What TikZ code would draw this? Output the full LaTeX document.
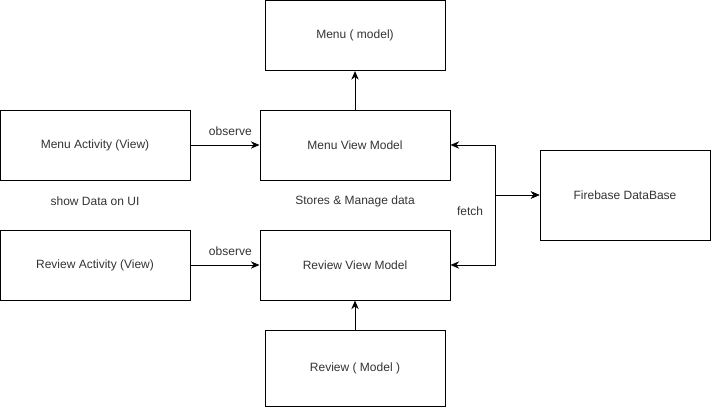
\documentclass[tikz,border=0pt]{standalone}
\usepackage{fontspec}
\setmainfont{Liberation Sans}
\usetikzlibrary{positioning, arrows.meta}

\begin{document}
\begin{tikzpicture}[x=0.75pt, y=-0.75pt,
                  font=\fontsize{9}{11}\selectfont,
                  box/.style={rectangle,draw=black,line width=0.75pt,text=black!80,
                    minimum width=142.5pt,minimum height=52.5pt,inner sep=0pt},
                  note/.style={text=black!80,inner sep=1pt},
                  link/.style={->,>={Stealth[length=6.5pt,width=5.5pt]},line width=0.75pt},
                  both/.style={<->,>={Stealth[length=6.5pt,width=5.5pt]},line width=0.75pt}
                  ]
                  \useasboundingbox (0,0) rectangle (712,408);
                  \node[box, minimum width=135pt] (menumodel) at (355,35.5) {Menu ( model)};
                  \node[box] (menuact) at (95,145) {Menu Activity (View)};
                  \node[box] (menuvm) at (355,145) {Menu View Model};
                  \node[box, minimum width=127.5pt, minimum height=67.5pt] (firebase) at (625,195) {Firebase DataBase};
                  \node[box] (reviewact) at (95,265) {Review Activity (View)};
                  \node[box] (reviewvm) at (355,265) {Review View Model};
                  \node[box, minimum width=135pt, minimum height=57pt] (reviewmodel) at (355,368) {Review ( Model )};
                  \node[note] (showdata) at (95,201) {show Data on UI};
                  \node[note] (stores) at (355,201) {Stores \& Manage data};
                  \node[note] (fetch) at (470,211) {fetch};
                  \coordinate (hub) at (495,195);
                  \draw[link] (menuact) -- node[note, above=5.5pt, xshift=4pt] {observe} (menuvm);
                  \draw[link] (reviewact) -- node[note, above=5.5pt, xshift=4pt] {observe} (reviewvm);
                  \draw[link] (menuvm) -- (menumodel);
                  \draw[link] (reviewmodel) -- (reviewvm);
                  \draw[both] (menuvm.east) -| (hub) -- (firebase.west);
                  \draw[both] (reviewvm.east) -| (hub) -- (firebase.west);
                \end{tikzpicture}
\end{document}
